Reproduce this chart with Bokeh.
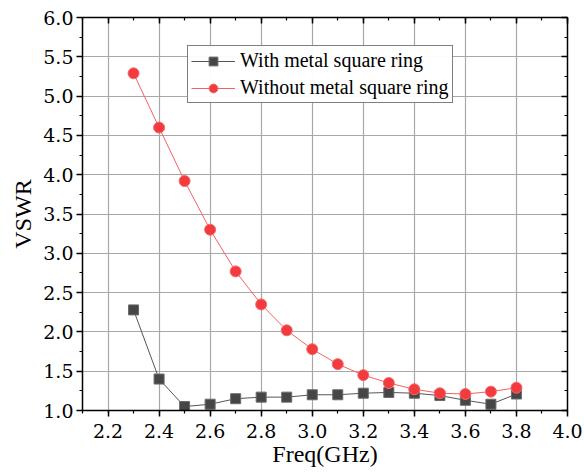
from bokeh.plotting import figure
from bokeh.models import (LinearAxis, SingleIntervalTicker, NumeralTickFormatter,
                          Range1d, Legend, LegendItem)
from bokeh.embed import file_html
from bokeh.resources import INLINE

freq = [2.3, 2.4, 2.5, 2.6, 2.7, 2.8, 2.9, 3.0, 3.1, 3.2, 3.3, 3.4, 3.5, 3.6, 3.7, 3.8]
with_ring = [2.28, 1.40, 1.05, 1.08, 1.15, 1.17, 1.17, 1.20, 1.20, 1.22, 1.23, 1.22, 1.19, 1.13, 1.08, 1.21]
without_ring = [5.29, 4.60, 3.92, 3.30, 2.77, 2.35, 2.02, 1.78, 1.59, 1.45, 1.35, 1.27, 1.22, 1.21, 1.24, 1.29]

FONT = "Liberation Serif"
TICK_FONT = "DejaVu Serif"

xt = SingleIntervalTicker(interval=0.2, num_minor_ticks=2)
yt = SingleIntervalTicker(interval=0.5, num_minor_ticks=2)
fmt = NumeralTickFormatter(format="0.0")

p = figure(width=584, height=472, output_backend="svg", toolbar_location=None,
           x_range=Range1d(2.1, 4.0), y_range=Range1d(1.0, 6.0),
           x_axis_location=None, y_axis_location=None,
           min_border_left=82, min_border_right=17, min_border_top=17, min_border_bottom=62)
p.outline_line_color = None
p.background_fill_color = "white"

common = dict(axis_line_width=1.5, axis_line_color="black",
              major_tick_line_color="black", minor_tick_line_color="black",
              major_tick_line_width=1.5, minor_tick_line_width=1.2,
              major_label_text_font=TICK_FONT, major_label_text_font_size="19px",
              major_label_text_color="black",
              axis_label_text_font=FONT, axis_label_text_font_size="24px",
              axis_label_text_font_style="normal", axis_label_text_color="black")

xa = LinearAxis(ticker=xt, formatter=fmt, axis_label="Freq(GHz)",
                major_tick_out=6, major_tick_in=0, minor_tick_out=3, minor_tick_in=0,
                major_label_standoff=7, axis_label_standoff=0, **common)
ya = LinearAxis(ticker=yt, formatter=fmt, axis_label="VSWR",
                major_tick_out=6, major_tick_in=0, minor_tick_out=3, minor_tick_in=0,
                major_label_standoff=3, axis_label_standoff=4, **common)
p.add_layout(xa, "below")
p.add_layout(ya, "left")

for loc, t in (("above", xt), ("right", yt)):
    a = LinearAxis(ticker=t, major_label_text_font_size="0px", major_label_text_color=None,
                   axis_line_width=1.5, major_tick_in=6, major_tick_out=0,
                   minor_tick_in=3, minor_tick_out=0, major_tick_line_width=1.5,
                   minor_tick_line_width=1.2, major_label_standoff=0)
    p.add_layout(a, loc)

p.xgrid.ticker = xt
p.ygrid.ticker = yt
p.grid.grid_line_color = "#a8a8a8"
p.grid.grid_line_width = 1.2

l1 = p.line(freq, with_ring, line_color="#555555", line_width=1)
s1 = p.scatter(freq, with_ring, marker="square", size=10, fill_color="#464646",
               line_color="#6a6a6a", line_width=1)
l2 = p.line(freq, without_ring, line_color="#f46060", line_width=1)
s2 = p.scatter(freq, without_ring, marker="circle", size=11, fill_color="#f23a3f",
               line_color="#f56a6a", line_width=1)

legend = Legend(items=[LegendItem(label="With metal square ring", renderers=[l1, s1]),
                       LegendItem(label="Without metal square ring", renderers=[l2, s2])],
                location=(105, 307))
legend.label_text_font = FONT
legend.label_text_font_size = "20px"
legend.label_text_color = "black"
legend.border_line_color = "black"
legend.border_line_width = 1
legend.glyph_width = 44
legend.glyph_height = 22
legend.label_height = 22
legend.spacing = 4
legend.padding = 3
legend.margin = 0
legend.label_standoff = 5
p.add_layout(legend, "center")

open("out.html", "w").write(file_html(p, INLINE))
